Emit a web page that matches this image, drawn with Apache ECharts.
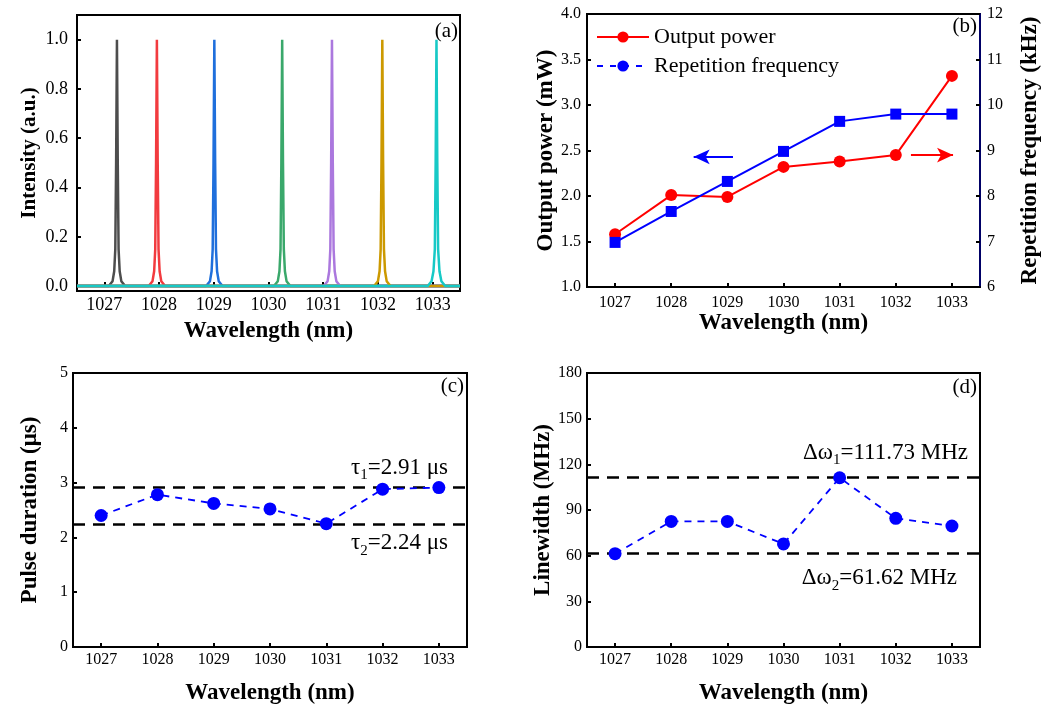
<!DOCTYPE html>
<html>
<head>
<meta charset="utf-8">
<script src="https://cdn.jsdelivr.net/npm/echarts@6/dist/echarts.min.js"></script>
<style>
  html, body { margin: 0; padding: 0; background: #fff; }
  #main { width: 1041px; height: 707px; }
</style>
</head>
<body>
<div id="main"></div>
<script>
// wavelengths (nm)
var wavelengths = [1027, 1028, 1029, 1030, 1031, 1032, 1033];

// (a) spectra: sampled wavelengths around each peak, shared intensity profile
var peakIntensity = [0, 0, 0.02, 0.06, 0.15, 0.5, 1, 0.5, 0.15, 0.06, 0.02, 0, 0];
var peakBlack  = [1026.5, 1027.08, 1027.15, 1027.18, 1027.20, 1027.215, 1027.23, 1027.245, 1027.26, 1027.28, 1027.31, 1027.38, 1033.5];
var peakRed    = [1026.5, 1027.81, 1027.88, 1027.91, 1027.93, 1027.945, 1027.96, 1027.975, 1027.99, 1028.01, 1028.04, 1028.11, 1033.5];
var peakBlue   = [1026.5, 1028.86, 1028.93, 1028.96, 1028.98, 1028.995, 1029.01, 1029.025, 1029.04, 1029.06, 1029.09, 1029.16, 1033.5];
var peakGreen  = [1026.5, 1030.10, 1030.17, 1030.20, 1030.22, 1030.235, 1030.25, 1030.265, 1030.28, 1030.30, 1030.33, 1030.40, 1033.5];
var peakPurple = [1026.5, 1031.01, 1031.08, 1031.11, 1031.13, 1031.145, 1031.16, 1031.175, 1031.19, 1031.21, 1031.24, 1031.31, 1033.5];
var peakGold   = [1026.5, 1031.93, 1032.00, 1032.03, 1032.05, 1032.065, 1032.08, 1032.095, 1032.11, 1032.13, 1032.16, 1032.23, 1033.5];
var peakCyan   = [1026.5, 1032.91, 1032.98, 1033.015, 1033.04, 1033.055, 1033.07, 1033.085, 1033.10, 1033.125, 1033.16, 1033.23, 1033.5];
var spectrumColors = ['#4d4d4d', '#f23b3f', '#1f6fdc', '#3aa86b', '#ab78de', '#cc9900', '#17c9c6'];
var intensityTicks = [0, 0.2, 0.4, 0.6, 0.8, 1.0];

// (b)
var outputPower = [1.58, 2.01, 1.99, 2.32, 2.38, 2.45, 3.32];        // mW
var repetitionFreq = [6.98, 7.66, 8.32, 8.98, 9.64, 9.80, 9.80];     // kHz

// (c)
var pulseDuration = [2.40, 2.78, 2.62, 2.52, 2.25, 2.88, 2.91];      // us
var tauMax = 2.91, tauMin = 2.24;

// (d)
var linewidth = [61.3, 82.5, 82.5, 67.7, 111.2, 84.5, 79.5];          // MHz
var dwMax = 111.73, dwMin = 61.62;

var FONT = 'Liberation Serif';

function pairs(xs, ys) {
  return xs.map(function (x, i) { return [x, ys[i]]; });
}

function xAxisFor(gridIndex, labelSize, gap, margin) {
  return {
    type: 'value', gridIndex: gridIndex, min: 1026.5, max: 1033.5,
    name: 'Wavelength (nm)', nameLocation: 'middle', nameGap: gap,
    nameTextStyle: { fontFamily: FONT, fontWeight: 'bold', fontSize: 23, color: '#000' },
    axisLine: { lineStyle: { color: '#000', width: 2 } },
    axisTick: { inside: true, length: 4, customValues: wavelengths, lineStyle: { color: '#000', width: 2 } },
    axisLabel: { customValues: wavelengths, fontFamily: FONT, fontSize: labelSize, color: '#000', margin: margin,
      formatter: function (v) { return String(v); } },
    splitLine: { show: false }
  };
}

function yAxisFor(gridIndex, name, min, max, interval, gap, margin) {
  return {
    type: 'value', gridIndex: gridIndex, min: min, max: max, interval: interval,
    name: name, nameLocation: 'middle', nameGap: gap,
    nameTextStyle: { fontFamily: FONT, fontWeight: 'bold', fontSize: 23, color: '#000' },
    axisLine: { show: true, lineStyle: { color: '#000', width: 2 } },
    axisTick: { inside: true, length: 4, lineStyle: { color: '#000', width: 2 } },
    axisLabel: { fontFamily: FONT, fontSize: 16, color: '#000', margin: margin },
    splitLine: { show: false }
  };
}

var gridBox = { show: true, borderColor: '#000', borderWidth: 2, backgroundColor: 'transparent', outerBoundsMode: 'none' };

var spectra = [peakBlack, peakRed, peakBlue, peakGreen, peakPurple, peakGold, peakCyan];

var series = spectra.map(function (xs, i) {
  return {
    type: 'line', xAxisIndex: 0, yAxisIndex: 0, symbol: 'none',
    data: pairs(xs, peakIntensity),
    lineStyle: { color: spectrumColors[i], width: 2.5 },
    z: 2 + i
  };
});

function markText(main, sub, rest) {
  return '{m|' + main + '}{s|' + sub + '}{m|' + rest + '}';
}
var richText = {
  m: { fontFamily: FONT, fontSize: 23, color: '#000', lineHeight: 30 },
  s: { fontFamily: FONT, fontSize: 15, color: '#000', lineHeight: 16, verticalAlign: 'bottom' }
};

series.push({
  name: 'Output power', type: 'line', xAxisIndex: 1, yAxisIndex: 1,
  data: pairs(wavelengths, outputPower),
  symbol: 'circle', symbolSize: 12,
  itemStyle: { color: '#ff0000' }, lineStyle: { color: '#ff0000', width: 2 },
  markLine: {
    silent: true, symbol: ['none', 'arrow'], symbolSize: [11, 16],
    label: { show: false },
    lineStyle: { color: '#ff0000', width: 2, type: 'solid' },
    data: [[{ coord: [1032.27, 2.45] }, { coord: [1033.02, 2.45] }]]
  }
});
// legend proxy: the legend shows a dashed line with a circle for this entry
series.push({
  name: 'Repetition frequency', type: 'line', xAxisIndex: 1, yAxisIndex: 2,
  data: [], symbol: 'circle', symbolSize: 12,
  itemStyle: { color: '#0000ff' }, lineStyle: { color: '#0000ff', width: 2, type: [6, 7] }
});
series.push({
  name: 'Repetition frequency data', type: 'line', xAxisIndex: 1, yAxisIndex: 2,
  data: pairs(wavelengths, repetitionFreq),
  symbol: 'rect', symbolSize: 11,
  itemStyle: { color: '#0000ff' }, lineStyle: { color: '#0000ff', width: 2 },
  markLine: {
    silent: true, symbol: ['none', 'arrow'], symbolSize: [11, 16],
    label: { show: false },
    lineStyle: { color: '#0000ff', width: 2, type: 'solid' },
    data: [[{ coord: [1029.10, 8.86] }, { coord: [1028.40, 8.86] }]]
  }
});

series.push({
  type: 'line', xAxisIndex: 2, yAxisIndex: 3,
  data: pairs(wavelengths, pulseDuration),
  symbol: 'circle', symbolSize: 13,
  itemStyle: { color: '#0000ff' }, lineStyle: { color: '#0000ff', width: 1.8, type: [7, 6] },
  z: 5,
  markLine: {
    silent: true, symbol: 'none', z: 3,
    lineStyle: { color: '#000', width: 2.5, type: [12, 8] },
    data: [
      { yAxis: tauMax, label: { position: 'insideEndTop', distance: [19, 5], formatter: markText('τ', '1', '=2.91 μs'), rich: richText } },
      { yAxis: tauMin, label: { position: 'insideEndBottom', distance: [19, 4], formatter: markText('τ', '2', '=2.24 μs'), rich: richText } }
    ]
  }
});

series.push({
  type: 'line', xAxisIndex: 3, yAxisIndex: 4,
  data: pairs(wavelengths, linewidth),
  symbol: 'circle', symbolSize: 13,
  itemStyle: { color: '#0000ff' }, lineStyle: { color: '#0000ff', width: 1.8, type: [7, 6] },
  z: 5,
  markLine: {
    silent: true, symbol: 'none', z: 3,
    lineStyle: { color: '#000', width: 2.5, type: [12, 8] },
    data: [
      { yAxis: dwMax, label: { position: 'insideEndTop', distance: [12, 9], formatter: markText('Δω', '1', '=111.73 MHz'), rich: richText } },
      { yAxis: dwMin, label: { position: 'insideEndBottom', distance: [23, 10], formatter: markText('Δω', '2', '=61.62 MHz'), rich: richText } }
    ]
  }
});

var panelTitle = function (text, right, top) {
  return { text: text, right: right, top: top, padding: 0,
    textStyle: { fontFamily: FONT, fontWeight: 'normal', fontSize: 21, color: '#000' } };
};

var intensityAxis = yAxisFor(0, 'Intensity (a.u.)', -0.02, 1.1, null, 36.5, 9);
delete intensityAxis.interval;
intensityAxis.nameTextStyle.fontSize = 21;
intensityAxis.axisLabel.customValues = intensityTicks;
intensityAxis.axisLabel.fontSize = 18;
intensityAxis.axisLabel.formatter = function (v) { return v.toFixed(1); };
intensityAxis.axisTick.customValues = intensityTicks;

var powerAxis = yAxisFor(1, 'Output power (mW)', 1, 4, 0.5, 27.5, 6);
powerAxis.axisLabel.formatter = function (v) { return v.toFixed(1); };

var freqAxis = yAxisFor(1, 'Repetition frequency (kHz)', 6, 12, 1, 39, 7);
freqAxis.position = 'right';
freqAxis.axisLine.lineStyle.color = '#000066';

var chart = echarts.init(document.getElementById('main'));
chart.setOption({
  animation: false,
  backgroundColor: '#fff',
  title: [
    panelTitle('(a)', 583, 21),
    panelTitle('(b)', 64, 16),
    panelTitle('(c)', 577, 376),
    panelTitle('(d)', 64, 377)
  ],
  legend: {
    left: 596, top: 26, padding: 0, orient: 'vertical', itemGap: 7,
    itemWidth: 52, itemHeight: 14,
    textStyle: { fontFamily: FONT, fontSize: 22, color: '#000' },
    data: ['Output power', 'Repetition frequency']
  },
  grid: [
    Object.assign({ left: 77, top: 15, width: 383, height: 276 }, gridBox),
    Object.assign({ left: 587, top: 14, width: 393, height: 273 }, gridBox),
    Object.assign({ left: 73, top: 373, width: 394, height: 274 }, gridBox),
    Object.assign({ left: 587, top: 373, width: 393, height: 274 }, gridBox)
  ],
  xAxis: [
    xAxisFor(0, 18, 28.5, 5),
    xAxisFor(1, 16, 24.5, 8),
    xAxisFor(2, 16, 34.5, 5),
    xAxisFor(3, 16, 34.5, 5)
  ],
  yAxis: [
    intensityAxis,
    powerAxis,
    freqAxis,
    yAxisFor(2, 'Pulse duration (μs)', 0, 5, 1, 31.5, 5),
    yAxisFor(3, 'Linewidth (MHz)', 0, 180, 30, 32.5, 5)
  ],
  series: series
});
</script>
</body>
</html>
